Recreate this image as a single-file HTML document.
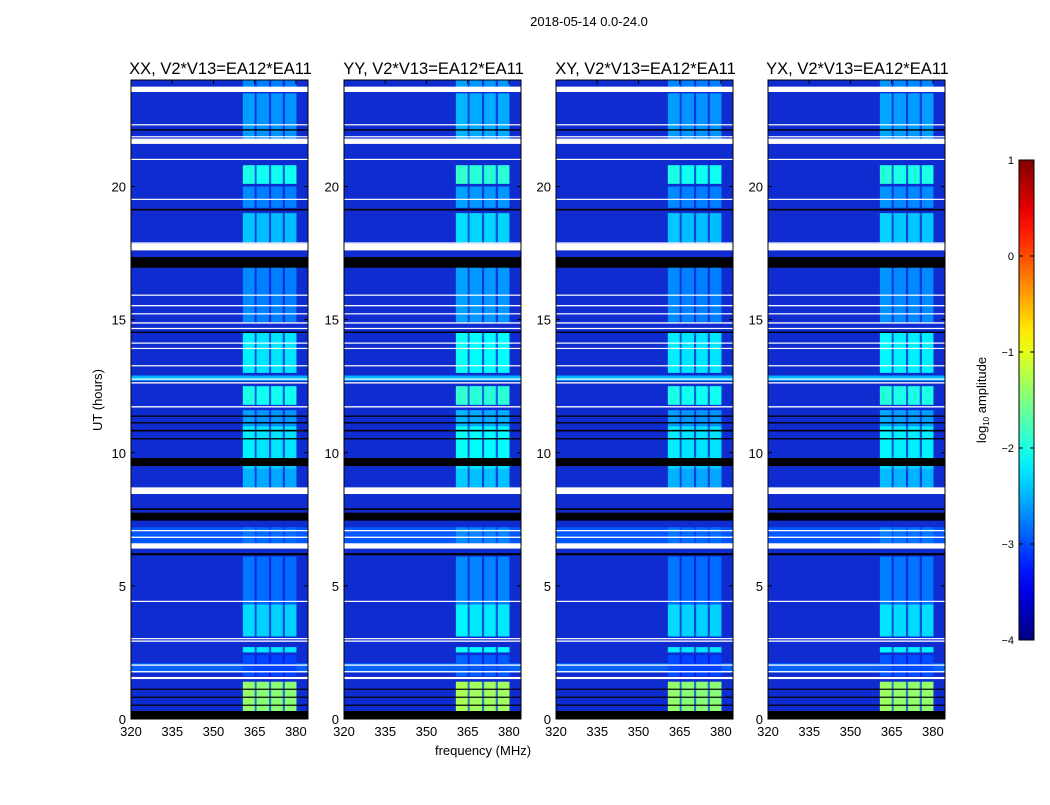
<!DOCTYPE html>
<html><head><meta charset="utf-8"><style>
body{margin:0;background:#fff;}
svg text{font-family:"Liberation Sans","DejaVu Sans",sans-serif;fill:#000;}
</style></head><body>
<svg id="fig" width="1050" height="800" viewBox="0 0 1050 800" xmlns="http://www.w3.org/2000/svg">
<rect width="1050" height="800" fill="#fff"/>
<text x="589" y="26" font-size="13" text-anchor="middle">2018-05-14 0.0-24.0</text>
<text x="102" y="400" font-size="13" text-anchor="middle" transform="rotate(-90 102 400)">UT (hours)</text>
<text x="483" y="755" font-size="13" text-anchor="middle">frequency (MHz)</text>
<g id="panels"></g>
<g id="cbar"></g>
</svg>
<script>
const panelTitles = ["XX, V2*V13=EA12*EA11","YY, V2*V13=EA12*EA11","XY, V2*V13=EA12*EA11","YX, V2*V13=EA12*EA11"];
const panelGain = [0, 0.12, 0, 0.05];
const stripeStart = [360.7, 365.7, 371.0, 376.0];
const stripeEnd = [365.0, 370.2, 375.2, 380.2];
const rfiSegments = [[0.3,1.4,-1.3],[1.6,2.4,-2.9],[2.5,2.7,-2.1],[3.1,4.3,-2.2],[4.3,6.1,-2.7],[6.6,7.2,-2.7],[8.7,9.4,-2.4],[9.4,9.8,-2.2],[9.8,11.0,-2.1],[11.0,11.6,-2.5],[11.8,12.5,-1.9],[13.0,14.5,-2.1],[14.9,17.0,-2.6],[17.9,19.0,-2.3],[19.2,20.0,-2.6],[20.1,20.8,-1.9],[21.8,23.5,-2.5],[23.7,24,-2.6]];
const wideBands = [[12.7,12.9,-2.5],[6.6,7.2,-2.95],[1.75,2.1,-2.9]];
const whiteFlags = [[1.5,0.08],[1.75,0.05],[2.0,0.05],[2.9,0.05],[3.0,0.04],[4.4,0.04],[6.4,0.2],[6.8,0.05],[7.05,0.05],[8.45,0.25],[11.7,0.05],[12.6,0.05],[12.75,0.04],[13.25,0.04],[13.9,0.04],[14.1,0.04],[14.65,0.04],[14.85,0.05],[15.2,0.04],[15.5,0.05],[15.9,0.04],[17.0,0.04],[17.6,0.25],[17.85,0.05],[19.5,0.04],[21.0,0.04],[21.6,0.2],[21.85,0.04],[22.3,0.04],[23.55,0.2]];
const blackFlags = [[0,0.3],[0.5,0.04],[0.8,0.04],[1.1,0.04],[6.15,0.08],[7.45,0.3],[7.85,0.06],[9.5,0.3],[10.5,0.05],[10.8,0.06],[11.1,0.05],[11.35,0.05],[14.5,0.05],[16.95,0.4],[19.1,0.06],[22.1,0.05]];
const xTicks = [320,335,350,365,380];
const yTicks = [0,5,10,15,20];
const cbarTicks = [1,0,-1,-2,-3,-4];
const cbarLabels = ["1","0","\u22121","\u22122","\u22123","\u22124"];

const panelLeft = [131,344,556,768], panelW = 177, plotTop = 80, plotBottom = 719;
const fMin = 320, fMax = 384.4, tMin = 0, tMax = 24, dim = -0.15;
const NS = "http://www.w3.org/2000/svg";
function jet(v){
  let x = Math.max(0, Math.min(1, (v + 4) / 5));
  const c = t => Math.max(0, Math.min(1, 1.5 - Math.abs(4*x - t)));
  return `rgb(${Math.round(255*c(3))},${Math.round(255*c(2))},${Math.round(255*c(1))})`;
}
function mk(tag, attrs, parent){ const e = document.createElementNS(NS, tag); for (const k in attrs) e.setAttribute(k, attrs[k]); parent.appendChild(e); return e; }
const root = document.getElementById('panels');
panelTitles.forEach((title, p) => {
  const L = panelLeft[p];
  const xs = f => L + (f - fMin) / (fMax - fMin) * panelW;
  const ys = h => plotBottom - (h - tMin) / (tMax - tMin) * (plotBottom - plotTop);
  const g = mk('g', {}, root);
  
  
  const bg = mk('rect', {x:L, y:plotTop, width:panelW, height:plotBottom-plotTop, fill:'#0f2cd0'}, g);
  
  
  wideBands.forEach(b => {
    const r = mk('rect', {x:L, y:ys(b[1]), width:panelW, height:ys(b[0])-ys(b[1]), fill:jet(b[2])}, g);
    
    
  });
  rfiSegments.forEach(s => {
    const r0 = mk('rect', {x:xs(stripeStart[0]), y:ys(s[1]), width:xs(stripeEnd[3])-xs(stripeStart[0]), height:ys(s[0])-ys(s[1]), fill:jet(s[2]-0.5+panelGain[p]), opacity:0.35}, g);
    
    
    stripeStart.forEach((f0, i) => {
      const r = mk('rect', {x:xs(f0), y:ys(s[1]), width:xs(stripeEnd[i])-xs(f0), height:ys(s[0])-ys(s[1]), fill:jet(s[2]+dim+panelGain[p]+(i===0?0.05:0))}, g);
      
      
    });
  });
  whiteFlags.forEach(w => {
    const r = mk('rect', {x:L, y:ys(w[0]+w[1]), width:panelW, height:Math.max(1.2, ys(w[0])-ys(w[0]+w[1])), fill:'#fff'}, g);
    
    
  });
  blackFlags.forEach(w => {
    const r = mk('rect', {x:L, y:ys(w[0]+w[1]), width:panelW, height:Math.max(1.2, ys(w[0])-ys(w[0]+w[1])), fill:'#000'}, g);
    
    
  });
  const fr = mk('rect', {x:L, y:plotTop, width:panelW, height:plotBottom-plotTop, fill:'none', stroke:'#000', 'stroke-width':1}, g);
  
  
  xTicks.forEach(t => {
    const x = xs(t);
    mk('line', {x1:x, y1:plotBottom, x2:x, y2:plotBottom-4, stroke:'#000'}, g);
    mk('line', {x1:x, y1:plotTop, x2:x, y2:plotTop+4, stroke:'#000'}, g);
    const tx = mk('text', {x:x, y:plotBottom+17, 'font-size':13, 'text-anchor':'middle'}, g);
    tx.textContent = t;
    
    
  });
  yTicks.forEach(t => {
    const y = ys(t);
    mk('line', {x1:L, y1:y, x2:L+4, y2:y, stroke:'#000'}, g);
    mk('line', {x1:L+panelW, y1:y, x2:L+panelW-4, y2:y, stroke:'#000'}, g);
    const tx = mk('text', {x:L-5, y:y+5, 'font-size':13, 'text-anchor':'end'}, g);
    tx.textContent = t;
    
    
  });
  const tt = mk('text', {x:L+panelW/2+1, y:74, 'font-size':16.5, 'text-anchor':'middle'}, g);
  tt.textContent = title;
  
  
});
const cb = document.getElementById('cbar');


const cx = 1019, cw = 15, cTop = 160, cBot = 640;
const cy = v => cBot - (v + 4) / 5 * (cBot - cTop);
const defs = mk('defs', {}, cb);
const grad = mk('linearGradient', {id:'jetg', x1:0, y1:1, x2:0, y2:0}, defs);
for (let i = 0; i <= 20; i++) mk('stop', {offset:i/20, 'stop-color':jet(-4 + 5*i/20)}, grad);
mk('rect', {x:cx, y:cTop, width:cw, height:cBot-cTop, fill:'url(#jetg)', stroke:'#000'}, cb);
cbarTicks.forEach((t, i) => {
  const y = cy(t);
  mk('line', {x1:cx, y1:y, x2:cx+4, y2:y, stroke:'#000'}, cb);
  mk('line', {x1:cx+cw, y1:y, x2:cx+cw-4, y2:y, stroke:'#000'}, cb);
  const tx = mk('text', {x:cx-5, y:y+4, 'font-size':11, 'text-anchor':'end'}, cb);
  tx.textContent = cbarLabels[i];
  
  
});
const cl = mk('text', {x:986, y:400, 'font-size':13, 'text-anchor':'middle', transform:'rotate(-90 986 400)'}, cb);
cl.innerHTML = 'log<tspan font-size="8" dy="3">10</tspan><tspan dy="-3"> amplitude</tspan>';


</script>
</body></html>
